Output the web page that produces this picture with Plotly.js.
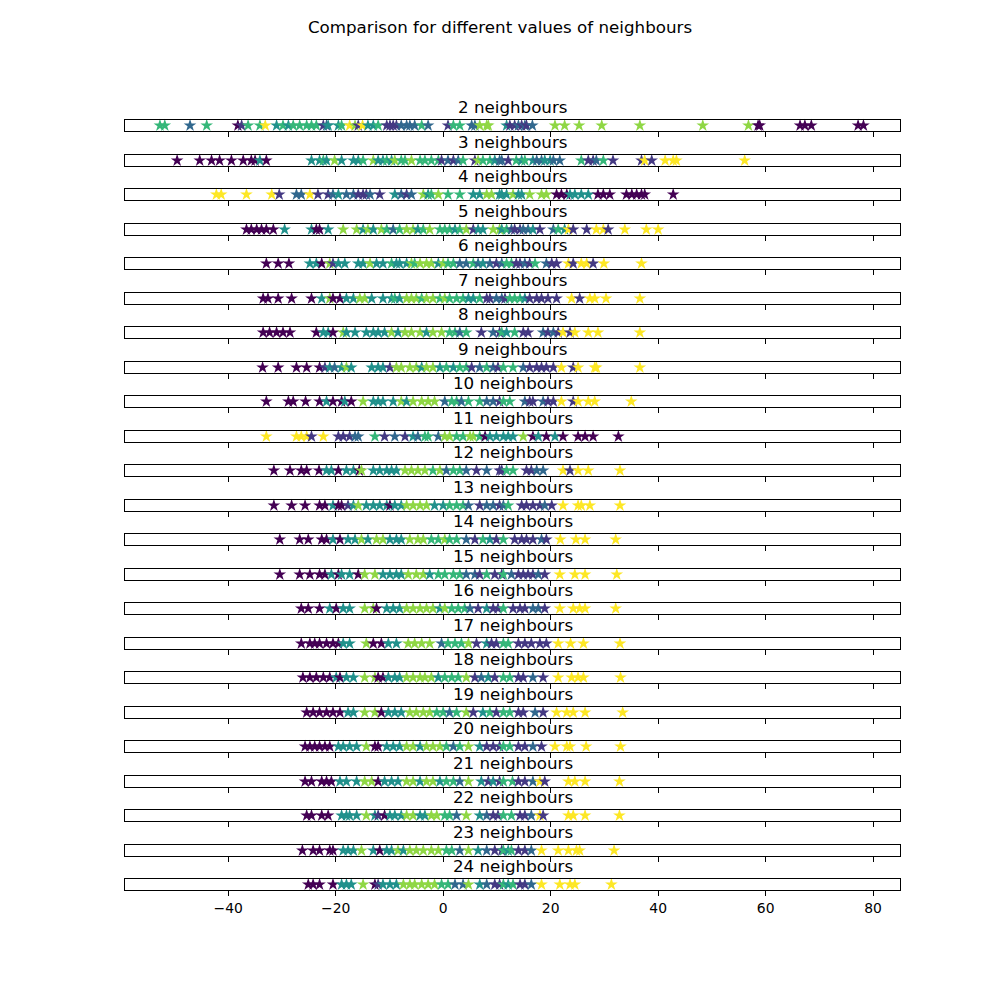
<!DOCTYPE html>
<html><head><meta charset="utf-8">
<script src="https://cdn.plot.ly/plotly-3.0.1.min.js"></script>
<style>body{margin:0;background:#fff}</style>
</head><body><div id="chart" style="width:1000px;height:1000px"></div>
<script>
// class index: 0..6 (viridis levels)
const neighbours = [2,3,4,5,6,7,8,9,10,11,12,13,14,15,16,17,18,19,20,21,22,23,24];
const xTicks = [-40,-20,0,20,40,60,80];

const x_n2 = [-52.7,-51.8,-47.1,-44.0,-38.2,-37.5,-36.3,-34.1,-33.1,-31.0,-29.8,-28.8,-27.9,-26.7,-25.4,-24.5,-23.6,-22.3,-21.7,-21.4,-19.5,-18.9,-17.4,-16.4,-15.8,-15.0,-14.0,-13.0,-12.1,-10.5,-9.9,-9.3,-8.7,-7.8,-6.8,-6.2,-5.3,-4.0,-2.8,0.9,1.9,3.1,5.3,5.9,6.8,8.1,8.4,11.8,12.4,13.3,14.0,14.6,15.2,15.5,16.6,20.8,22.6,25.3,29.5,36.6,48.3,56.8,58.6,58.9,66.4,67.3,68.5,77.2,78.2];
const c_n2 = [4,4,2,4,0,1,4,4,6,3,4,3,4,4,4,4,4,1,2,3,3,4,6,5,1,6,3,3,4,1,1,1,1,2,2,2,2,4,2,1,4,4,2,2,5,5,5,3,1,1,2,1,2,1,2,5,5,5,5,5,5,5,0,0,0,0,0,0,0];

const x_n3 = [-49.5,-45.3,-43.1,-41.6,-39.4,-37.2,-35.7,-35.0,-34.1,-32.9,-24.5,-23.0,-22.3,-21.7,-20.2,-18.9,-16.7,-15.8,-14.9,-13.0,-12.1,-11.2,-10.5,-9.6,-9.0,-7.8,-7.1,-5.9,-4.3,-3.4,-2.2,-0.9,-0.3,0.9,1.9,2.8,3.7,5.9,6.5,7.4,8.7,9.6,10.5,10.9,12.1,13.6,14.6,15.2,16.7,17.4,18.3,18.9,19.9,20.5,21.7,25.7,27.0,27.9,28.5,29.8,31.6,36.9,37.5,38.8,41.3,42.8,43.4,56.1];
const c_n3 = [0,0,0,0,0,0,0,0,3,0,3,3,4,3,5,3,3,3,4,5,3,3,4,3,5,4,4,5,4,4,4,4,1,2,1,2,4,1,5,4,4,3,2,2,1,4,3,4,3,2,2,3,3,2,2,4,1,1,2,4,1,1,6,1,6,6,6,6];

const x_n4 = [-42.2,-41.3,-36.6,-31.9,-30.5,-27.3,-26.4,-24.8,-23.3,-21.4,-20.5,-19.5,-18.0,-16.7,-15.8,-14.9,-14.3,-13.6,-11.8,-9.0,-7.8,-6.8,-5.9,-3.7,-2.8,-2.2,-0.9,0.9,3.1,5.6,6.8,8.1,9.0,10.5,10.9,11.8,13.0,14.0,14.6,16.1,18.3,19.2,21.1,22.0,23.0,23.6,24.5,25.7,27.0,28.8,29.8,31.0,34.1,35.1,36.0,36.9,37.5,42.8];
const c_n4 = [6,6,6,6,1,2,2,6,1,1,2,3,2,2,1,1,1,2,1,3,2,1,2,5,3,4,5,4,4,3,3,5,5,3,3,3,5,3,3,5,5,5,0,0,0,3,3,3,3,0,0,0,0,0,0,0,0,0];

const x_n5 = [-36.6,-35.7,-34.7,-33.8,-32.9,-31.6,-29.5,-24.5,-23.6,-23.0,-21.4,-18.6,-16.1,-14.9,-14.0,-13.0,-11.5,-10.5,-9.3,-8.1,-6.8,-5.6,-4.7,-3.7,-2.5,-0.6,0.3,1.2,2.2,3.1,4.3,5.6,6.5,7.4,9.3,10.5,10.9,11.8,12.7,13.3,14.3,14.9,15.8,16.7,18.0,20.5,21.4,22.6,23.3,24.2,26.7,28.5,29.8,30.7,33.8,37.8,40.0];
const c_n5 = [0,0,0,0,0,0,3,3,0,0,3,5,5,3,5,3,5,4,2,4,5,5,3,4,5,4,4,4,3,4,5,1,3,3,5,5,3,4,2,1,1,2,2,3,1,2,4,3,6,1,1,6,6,1,6,6,6];

const x_n6 = [-32.9,-30.7,-28.7,-24.8,-23.6,-22.6,-21.1,-20.5,-19.5,-18.3,-15.8,-14.9,-13.6,-12.4,-11.2,-9.6,-8.7,-8.1,-6.8,-5.9,-5.3,-4.3,-3.1,-2.2,-0.9,0.0,0.9,1.9,3.1,4.3,5.6,6.5,7.4,8.7,9.9,10.9,11.8,12.7,13.6,14.3,15.2,16.1,17.1,19.2,20.2,21.1,23.3,24.2,25.7,26.7,27.9,29.9,36.9];
const c_n6 = [0,0,0,3,3,0,5,1,3,3,3,3,5,3,3,4,3,3,3,5,4,5,5,5,3,5,4,4,2,2,4,2,3,2,1,2,4,4,1,1,2,1,4,2,1,1,6,1,6,6,1,6,6];

const x_n7 = [-33.5,-32.6,-30.7,-28.2,-24.5,-22.6,-21.1,-20.5,-19.2,-18.0,-16.7,-15.5,-14.6,-13.3,-11.2,-9.6,-9.0,-8.1,-6.8,-5.9,-5.0,-4.0,-3.1,-1.9,-0.6,0.3,1.2,2.5,3.7,4.7,5.6,6.8,8.1,8.7,9.9,10.9,11.5,12.4,13.3,14.3,15.2,16.1,17.4,18.3,19.5,21.1,23.9,25.4,27.3,28.2,30.3,36.6];
const c_n7 = [0,0,0,0,0,3,5,0,0,3,3,5,5,3,3,3,4,3,5,5,5,4,5,5,4,5,4,4,4,3,3,4,1,1,2,2,1,4,4,4,3,1,1,1,1,1,6,1,6,6,6,6];

const x_n8 = [-33.5,-32.3,-31.0,-29.8,-28.5,-23.6,-22.3,-21.4,-20.5,-18.6,-18.0,-16.4,-14.3,-13.0,-12.1,-10.9,-9.6,-8.4,-7.1,-5.9,-4.3,-3.1,-1.9,-0.3,1.2,2.2,3.1,4.3,7.1,9.3,10.5,10.9,11.8,13.3,14.9,15.8,18.6,19.5,20.5,21.4,22.3,23.6,24.5,27.0,28.8,36.6];
const c_n8 = [0,0,0,0,0,0,3,3,0,5,3,3,3,3,3,3,5,3,5,5,5,3,5,5,4,4,2,4,1,2,1,4,3,4,1,1,2,1,2,1,6,1,6,6,6,6];

const x_n9 = [-33.6,-30.7,-27.3,-25.4,-23.0,-22.0,-21.1,-20.2,-18.9,-18.0,-17.1,-13.3,-12.1,-11.2,-9.9,-8.7,-7.8,-6.2,-5.0,-4.0,-3.1,-1.9,-0.6,0.6,1.9,3.1,4.3,5.3,6.8,8.1,9.3,10.2,11.2,13.0,14.9,16.1,17.4,18.3,19.2,20.5,22.0,24.2,25.1,28.2,28.5,36.6];
const c_n9 = [0,0,0,0,0,1,3,2,3,5,3,3,3,3,1,5,5,5,5,3,5,5,3,4,3,4,4,1,2,4,2,1,4,4,2,1,1,1,1,1,6,1,6,6,6,6];

const x_n10 = [-32.9,-28.8,-27.9,-25.6,-23.0,-21.7,-20.5,-18.9,-18.3,-17.1,-14.9,-13.0,-12.1,-11.2,-9.3,-7.8,-6.8,-5.6,-4.0,-2.8,-1.6,0.3,1.6,2.5,3.4,4.7,6.8,8.1,9.3,10.5,11.2,12.4,15.2,16.1,16.7,18.6,19.5,20.5,22.0,24.2,25.1,27.0,28.2,35.0];
const c_n10 = [0,0,0,0,0,3,0,0,3,0,5,3,3,3,3,5,3,5,5,5,5,2,4,4,2,4,4,2,2,1,4,4,2,1,1,2,1,1,6,1,6,6,6,6];

const x_n11 = [-32.9,-27.3,-26.4,-25.4,-24.5,-22.3,-19.5,-18.6,-17.4,-16.4,-15.8,-12.7,-10.9,-9.0,-7.1,-5.6,-4.7,-3.4,-2.8,-0.9,0.3,1.2,2.5,3.7,5.0,5.6,6.8,7.8,8.7,9.9,11.2,12.1,13.0,14.9,16.7,17.7,19.2,20.8,22.3,25.1,26.4,27.9,32.6];
const c_n11 = [6,6,6,6,1,6,1,1,1,2,2,4,1,2,1,3,2,4,4,2,5,5,4,4,5,5,4,0,3,3,3,3,3,5,0,3,0,3,0,0,0,0,0];

const x_n12 = [-31.5,-28.5,-26.4,-25.4,-23.1,-21.7,-20.8,-19.5,-18.0,-16.7,-15.6,-15.2,-13.0,-11.8,-10.5,-9.6,-8.7,-7.1,-5.9,-4.7,-3.4,-1.9,-0.6,0.6,1.9,3.1,4.3,6.2,8.1,10.5,10.9,11.8,13.0,15.5,16.4,17.4,18.6,22.3,23.6,25.1,27.0,32.9];
const c_n12 = [0,0,0,0,0,3,3,0,3,3,0,5,3,3,3,3,3,5,5,5,5,4,5,2,4,4,2,1,2,1,1,4,4,1,1,2,2,6,1,6,6,6];

const x_n13 = [-31.5,-28.2,-25.7,-23.0,-22.0,-20.5,-19.5,-18.9,-17.7,-16.7,-15.8,-14.3,-13.0,-11.8,-10.5,-9.9,-9.0,-7.8,-6.8,-5.6,-4.3,-3.1,-1.6,0.0,1.2,2.5,3.7,4.7,6.8,8.1,9.3,10.5,11.2,12.1,14.6,15.5,16.7,18.0,18.9,20.2,22.3,25.1,25.7,27.3,32.9];
const c_n13 = [0,0,0,0,0,3,0,0,1,3,5,3,3,3,3,0,3,3,5,5,5,5,3,3,4,4,4,2,1,2,2,1,2,4,1,1,1,1,2,1,6,6,6,6,6];

const x_n14 = [-30.4,-26.7,-25.1,-22.6,-21.7,-20.5,-19.2,-17.7,-16.4,-15.2,-14.0,-12.4,-11.2,-9.9,-8.7,-7.8,-6.2,-4.7,-3.7,-2.2,-0.9,0.3,1.2,2.5,4.3,5.9,7.4,8.7,9.9,11.2,13.3,14.6,15.5,16.7,18.3,19.2,21.8,24.7,26.4,32.1];
const c_n14 = [0,0,0,0,0,3,0,3,3,5,3,5,5,3,3,3,5,5,5,4,4,5,4,4,2,1,4,3,1,4,1,1,1,1,2,1,6,6,6,6];

const x_n15 = [-30.4,-26.7,-24.8,-23.0,-22.0,-20.8,-19.5,-18.9,-17.4,-15.8,-14.6,-12.7,-11.2,-9.9,-8.7,-7.8,-6.5,-5.0,-3.7,-2.5,-0.9,0.3,1.9,3.1,4.3,5.9,6.8,8.1,9.6,10.9,11.2,12.7,14.0,14.9,15.8,16.7,17.7,18.9,21.7,24.5,26.4,32.3];
const c_n15 = [0,0,0,0,0,3,0,3,3,0,5,5,3,3,3,3,5,5,5,3,4,4,4,4,2,2,1,4,1,1,4,2,1,1,1,1,2,1,6,6,6,6];

const x_n16 = [-26.4,-25.1,-23.0,-21.1,-19.9,-18.6,-17.4,-14.6,-13.0,-12.4,-10.5,-9.3,-8.1,-6.8,-5.6,-4.3,-3.1,-1.9,-0.6,0.3,1.6,2.8,4.0,5.0,6.5,8.1,9.3,10.2,11.2,13.0,14.3,15.2,16.7,17.7,18.9,21.7,24.2,25.4,26.4,32.1];
const c_n16 = [0,0,0,3,0,3,3,5,5,0,3,3,3,5,5,5,5,5,3,5,4,4,4,2,1,3,1,1,4,1,1,1,2,2,1,6,6,6,6,6];

const x_n17 = [-26.4,-24.8,-23.9,-23.0,-21.7,-20.5,-19.5,-18.6,-17.4,-14.3,-13.0,-11.5,-10.2,-8.7,-6.5,-5.3,-4.0,-2.5,-0.3,0.9,2.2,3.4,4.7,6.2,8.1,9.0,9.9,11.2,12.1,14.0,15.2,16.4,18.0,19.2,21.4,23.7,26.1,32.9];
const c_n17 = [0,0,0,0,0,0,0,3,3,5,0,0,3,3,5,5,5,5,2,4,4,4,5,1,3,1,1,4,4,1,1,1,1,1,6,6,6,6];

const x_n18 = [-26.1,-24.8,-23.6,-22.3,-21.1,-19.9,-19.2,-18.0,-16.7,-14.6,-12.7,-12.1,-11.2,-10.2,-9.0,-8.1,-6.8,-5.6,-4.3,-3.4,-2.2,-0.9,0.3,1.6,2.8,4.3,5.9,7.1,8.4,9.6,11.2,12.4,14.0,14.9,16.7,18.6,21.4,23.9,25.1,26.1,33.0];
const c_n18 = [0,0,0,0,0,3,0,3,3,5,5,0,0,3,3,3,5,5,5,5,5,3,4,4,4,5,1,2,3,1,4,4,1,1,2,1,6,6,6,6,6];

const x_n19 = [-25.4,-24.2,-23.0,-21.7,-20.5,-19.2,-17.7,-16.7,-14.6,-12.7,-11.5,-10.2,-9.0,-7.8,-6.2,-5.0,-3.7,-2.5,-1.2,0.0,1.2,2.5,4.3,5.6,7.4,8.7,9.9,11.2,12.4,14.0,14.9,17.1,18.6,21.1,23.0,24.2,26.4,33.4];
const c_n19 = [0,0,0,0,0,0,3,3,5,5,0,3,3,3,5,5,5,5,4,4,2,4,5,1,3,4,1,4,4,1,1,2,1,6,6,6,6,6];

const x_n20 = [-25.7,-24.8,-23.9,-23.0,-22.0,-21.1,-19.5,-18.6,-17.4,-16.1,-14.3,-12.7,-12.1,-10.5,-9.3,-8.1,-6.8,-5.6,-4.3,-3.1,-1.9,-0.6,0.6,1.9,3.1,4.7,6.8,8.1,9.3,10.5,11.2,12.4,14.0,15.2,16.7,18.3,20.8,23.0,23.6,26.6,33.0];
const c_n20 = [0,0,0,0,0,0,3,3,3,3,5,0,0,3,3,3,5,5,3,5,5,5,4,2,4,5,3,1,1,1,4,4,1,1,2,1,6,6,6,6,6];

const x_n21 = [-25.7,-24.5,-22.6,-21.7,-20.8,-19.2,-18.0,-16.1,-14.6,-13.3,-12.1,-10.9,-9.6,-8.4,-6.8,-5.6,-4.3,-3.1,-1.9,-0.6,0.6,1.9,3.1,4.7,7.1,8.4,9.3,10.5,11.2,12.9,14.0,15.2,16.7,18.0,18.9,23.3,24.5,26.4,32.8];
const c_n21 = [0,0,0,0,0,3,3,3,5,5,0,3,3,3,5,5,3,5,5,3,4,4,2,5,3,1,3,1,4,4,1,1,2,6,1,6,6,6,6];

const x_n22 = [-25.4,-24.5,-22.6,-21.4,-18.9,-18.0,-17.4,-16.1,-14.3,-12.7,-12.1,-10.9,-9.9,-9.0,-7.8,-6.8,-5.6,-4.3,-3.4,-2.2,-1.2,0.3,1.2,2.5,4.3,6.8,8.1,9.3,10.2,11.2,12.7,14.3,15.2,16.4,18.0,18.6,23.3,24.2,26.4,32.8];
const c_n22 = [0,0,0,0,3,3,3,3,5,3,1,0,3,3,3,5,5,3,3,5,5,4,4,2,5,3,2,1,1,4,4,1,1,2,6,1,6,6,6,6];

const x_n23 = [-26.2,-24.2,-23.0,-21.1,-20.5,-18.6,-17.7,-16.7,-15.2,-13.0,-11.8,-10.5,-9.6,-8.4,-7.4,-6.2,-5.0,-3.7,-2.2,-0.9,0.6,1.6,3.1,4.7,6.5,8.1,9.6,10.9,11.2,12.1,12.7,14.0,15.2,16.4,18.3,21.4,23.3,24.8,25.4,31.8];
const c_n23 = [0,0,0,0,0,3,3,3,5,3,0,3,3,5,3,5,5,5,5,5,4,4,2,5,3,2,1,1,4,3,4,1,1,2,6,6,6,6,6,6];

const x_n24 = [-25.1,-24.2,-23.0,-20.5,-18.9,-18.0,-17.1,-14.9,-12.7,-12.1,-11.2,-9.9,-8.7,-7.4,-6.2,-5.3,-4.0,-2.8,-1.6,-0.3,0.9,2.2,3.7,4.7,6.8,8.1,9.6,10.5,11.2,12.1,13.0,14.3,15.2,16.4,18.3,21.7,23.6,24.5,31.3];
const c_n24 = [0,0,0,0,3,3,3,5,0,1,3,3,3,5,5,5,5,5,5,4,4,2,2,5,3,2,1,1,4,3,4,1,1,2,6,6,6,6,6];

const xSets = [x_n2,x_n3,x_n4,x_n5,x_n6,x_n7,x_n8,x_n9,x_n10,x_n11,x_n12,x_n13,x_n14,x_n15,x_n16,x_n17,x_n18,x_n19,x_n20,x_n21,x_n22,x_n23,x_n24];
const cSets = [c_n2,c_n3,c_n4,c_n5,c_n6,c_n7,c_n8,c_n9,c_n10,c_n11,c_n12,c_n13,c_n14,c_n15,c_n16,c_n17,c_n18,c_n19,c_n20,c_n21,c_n22,c_n23,c_n24];

// style
const palette = ['#440154','#443983','#31688e','#21918c','#35b779','#8fd744','#fde725'];
const FONT = 'DejaVu Sans, Arial, sans-serif';
const H = 1000, MT = 100, MB = 100, PH = H - MT - MB;
const boxTop0 = 120, boxH = 11, rowStep = 34.5;

const data = [];
const layout = {
  width: 1000, height: 1000,
  margin: {l: 125, r: 100, t: MT, b: MB, pad: 0},
  paper_bgcolor: '#fff', plot_bgcolor: '#fff',
  showlegend: false,
  font: {family: FONT, size: 13.9, color: '#000'},
  title: {text: 'Comparison for different values of neighbours', x: 0.5, xref: 'container', xanchor: 'center',
          y: 0.973, yref: 'container', yanchor: 'middle', font: {family: FONT, size: 16.7, color: '#000'}},
  annotations: []
};

neighbours.forEach((n, k) => {
  const idx = k === 0 ? '' : String(k + 1);
  const top = Math.round(boxTop0 + rowStep * k);
  const bot = top + boxH;
  const d0 = (H - MB - bot) / PH, d1 = (H - MB - top) / PH;
  const xs = xSets[k], cs = cSets[k];
  data.push({
    type: 'scatter', mode: 'markers',
    x: xs, y: xs.map(() => 0),
    xaxis: 'x' + idx, yaxis: 'y' + idx,
    marker: {symbol: 'star', size: 9.5, color: cs.map(c => palette[c]), line: {width: 0}},
    cliponaxis: false, hoverinfo: 'x'
  });
  const last = k === neighbours.length - 1;
  layout['xaxis' + idx] = {
    domain: [0, 1], anchor: 'y' + idx, range: [-59.2, 85.0],
    tickvals: xTicks, ticktext: xTicks.map(v => v < 0 ? '\u2212' + Math.abs(v) : String(v)),
    showticklabels: last, ticks: 'outside', ticklen: 5, tickwidth: 1, tickcolor: '#000',
    tickfont: {family: FONT, size: 13.9, color: '#000'},
    showline: true, linecolor: '#000', linewidth: 1, mirror: true,
    showgrid: false, zeroline: false, fixedrange: true
  };
  layout['yaxis' + idx] = {
    domain: [d0, d1], anchor: 'x' + idx, range: [-1, 1],
    showticklabels: false, ticks: '', showgrid: false, zeroline: false,
    showline: true, linecolor: '#000', linewidth: 1, mirror: true, fixedrange: true
  };
  layout.annotations.push({
    text: n + ' neighbours', xref: 'paper', x: 0.5, xanchor: 'center',
    yref: 'paper', y: d1, yanchor: 'bottom', yshift: 1, showarrow: false,
    font: {family: FONT, size: 16.7, color: '#000'}
  });
});

Plotly.newPlot('chart', data, layout, {displayModeBar: false, staticPlot: true});
</script>
</body></html>
